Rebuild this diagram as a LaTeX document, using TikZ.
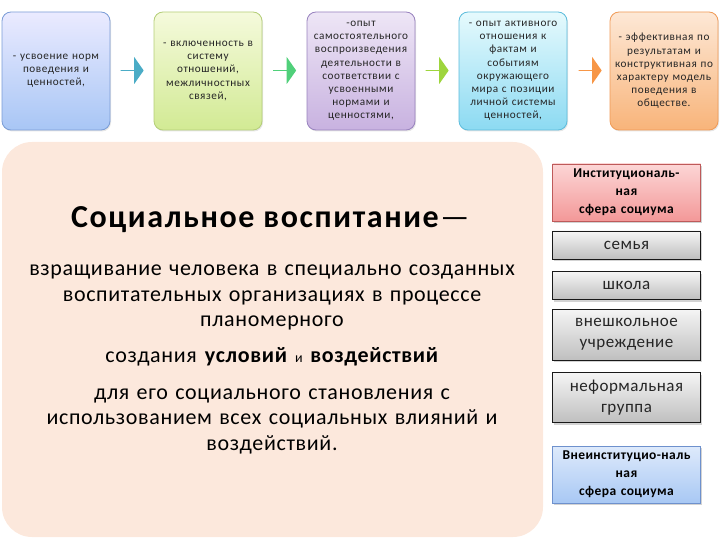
\documentclass[tikz,border=0pt]{standalone}
\usepackage{fontspec}
\setmainfont{Carlito}
\newfontfamily\bodyfont[LetterSpace=3]{Carlito}
\newfontfamily\titlefont[LetterSpace=5]{Carlito}
\newfontfamily\smallfont[LetterSpace=5]{Carlito}
\newfontfamily\sidefont[LetterSpace=3]{Carlito}
\usetikzlibrary{shapes.arrows,shadows}
\definecolor{peach}{HTML}{FCE8DC}
\tikzset{
  topbox/.style={draw, line width=0.8pt, rounded corners=9pt, minimum width=108pt, minimum height=118pt,
     text width=106pt, align=center, inner sep=1pt, font=\smallfont\fontsize{11.2}{13.2}\selectfont, text=black!85,
     drop shadow={shadow xshift=1pt, shadow yshift=-1.5pt, opacity=0.2}},
  blockarrow/.style={single arrow, draw=none, minimum height=23pt, minimum width=27pt,
     single arrow head extend=5.5pt, single arrow tip angle=110, inner sep=0pt},
  sidebox/.style={draw, line width=0.6pt, minimum width=148pt, text width=146pt, align=center, inner sep=1pt,
     drop shadow={shadow xshift=1.5pt, shadow yshift=-2pt, opacity=0.35}},
  graybox/.style={sidebox, top color=black!4, bottom color=black!25, draw=black!90,
     font=\sidefont\fontsize{17}{21}\selectfont, text=black!85},
  sfera/.style={sidebox, font=\sidefont\fontsize{13.5}{18}\selectfont\bfseries, minimum height=57pt},
  bodytxt/.style={text width=540pt, align=center, font=\bodyfont\fontsize{22}{25.5}\selectfont, inner sep=0pt}
}
\begin{document}
\begin{tikzpicture}[x=1pt,y=-1pt]
\useasboundingbox (0,0) rectangle (720,540);
% top row
\node[topbox, top color=blue!8!white, bottom color={rgb,255:red,168;green,198;blue,245}, draw={rgb,255:red,122;green,156;blue,214}] (b1) at (56,71)
  {- усвоение норм\\поведения и\\ценностей,};
\node[topbox, top color={rgb,255:red,245;green,250;blue,220}, bottom color={rgb,255:red,210;green,234;blue,148}, draw={rgb,255:red,180;green,206;blue,120}] (b2) at (208,71)
  {- включенность в\\систему\\отношений,\\межличностных\\связей,};
\node[topbox, top color={rgb,255:red,238;green,230;blue,246}, bottom color={rgb,255:red,200;green,178;blue,224}, draw={rgb,255:red,152;green,130;blue,190}] (b3) at (361,71)
  {-опыт\\самостоятельного\\воспроизведения\\деятельности в\\соответствии с\\усвоенными\\нормами и\\ценностями,};
\node[topbox, top color={rgb,255:red,230;green,250;blue,253}, bottom color={rgb,255:red,140;green,218;blue,242}, draw={rgb,255:red,92;green,188;blue,220}] (b4) at (513,71)
  {- опыт активного\\отношения к\\фактам и\\событиям\\окружающего\\мира с позиции\\личной системы\\ценностей,};
\node[topbox, top color={rgb,255:red,253;green,232;blue,214}, bottom color={rgb,255:red,248;green,180;blue,122}, draw={rgb,255:red,240;green,154;blue,86}] (b5) at (664,71)
  {- эффективная по\\результатам и\\конструктивная по\\характеру модель\\поведения в\\обществе.};
% arrows
\node[blockarrow, fill={rgb,255:red,75;green,172;blue,198}] (a1) at (132,70.5) {};
\node[blockarrow, fill={rgb,255:red,80;green,208;blue,122}] (a2) at (284.5,70.5) {};
\node[blockarrow, fill={rgb,255:red,158;green,213;blue,61}] (a3) at (437,70.5) {};
\node[blockarrow, fill={rgb,255:red,247;green,150;blue,70}] (a4) at (590,70.5) {};
% big box
\node[fill=peach, rounded corners=30pt, minimum width=541pt, minimum height=395pt, inner sep=0pt] (big) at (272.5,339.5) {};
\node[font=\titlefont\fontsize{32}{36}\selectfont\bfseries, inner sep=0pt, anchor=base] (title) at (271,228) {Социальное воспитание\textmd{—}};
\node[bodytxt] (p1) at (272,297.5) {взращивание человека в специально созданных\\воспитательных организациях в процессе\\планомерного};
\node[bodytxt] (p2) at (272,357) {создания \textbf{условий} {\fontsize{14}{15}\selectfont и} \textbf{воздействий}};
\node[bodytxt] (p3) at (272,421) {для его социального становления с\\использованием всех социальных влияний и\\воздействий.};
% side boxes
\node[sfera, top color={rgb,255:red,252;green,214;blue,214}, bottom color={rgb,255:red,243;green,152;blue,152}, draw={rgb,255:red,190;green,90;blue,90}] (inst) at (626.5,192.5)
  {Институциональ-\\ная\\сфера социума};
\node[graybox, minimum height=28pt] (s1) at (626.5,245) {семья};
\node[graybox, minimum height=28pt] (s2) at (626.5,285.5) {школа};
\node[graybox, minimum height=51pt] (s3) at (626.5,334.5) {внешкольное\\учреждение};
\node[graybox, minimum height=50pt] (s4) at (626.5,397.5) {неформальная\\группа};
\node[sfera, top color={rgb,255:red,222;green,234;blue,251}, bottom color={rgb,255:red,168;green,200;blue,244}, draw={rgb,255:red,110;green,145;blue,205}] (vne) at (626.5,474.5)
  {Внеинституцио-наль\\ная\\сфера социума};
\end{tikzpicture}
\end{document}
